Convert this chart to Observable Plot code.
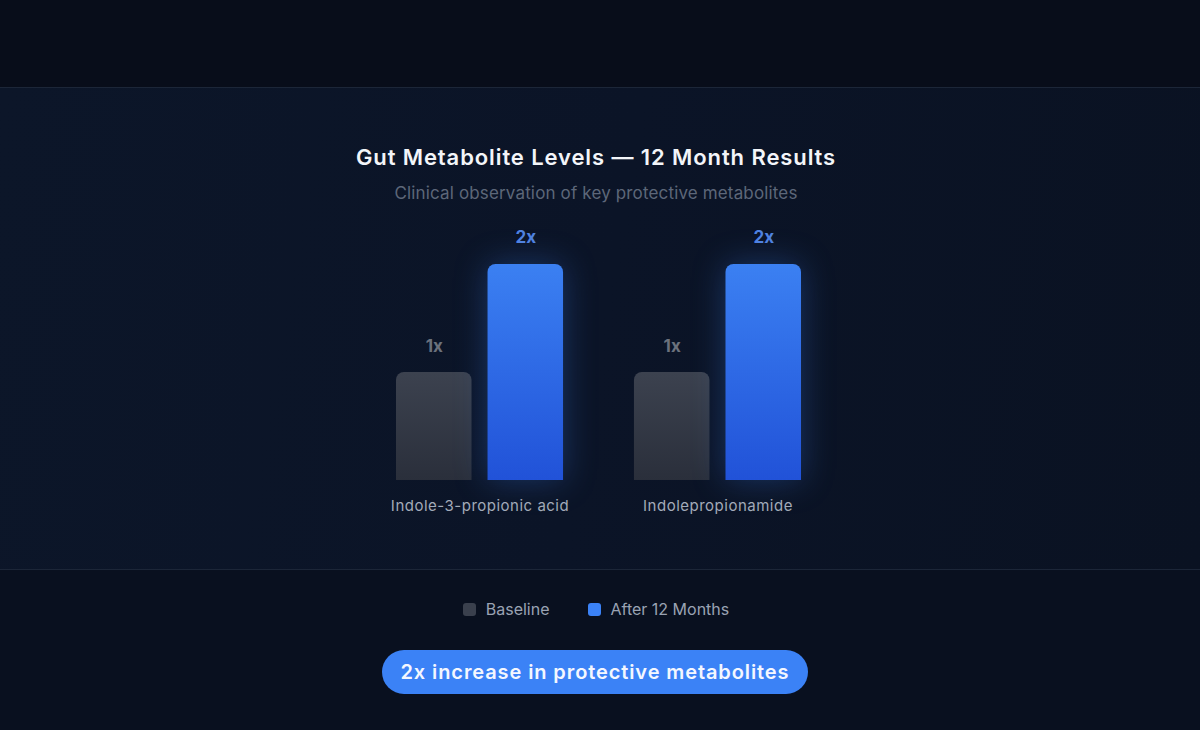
<!DOCTYPE html>
<html>
<head>
<meta charset="utf-8">
<script src="https://cdn.jsdelivr.net/npm/d3@7"></script>
<script src="https://cdn.jsdelivr.net/npm/@observablehq/plot@0.6"></script>
<style>
  html, body { margin: 0; padding: 0; }
  body { width: 1200px; height: 730px; overflow: hidden; background: #080d1a; position: relative; font-family: Inter, "Noto Sans", sans-serif; }
  .panel { position: absolute; left: 0; top: 87px; width: 1200px; height: 481px; border-top: 1px solid #1c2638; border-bottom: 1px solid #1c2638;
    background: linear-gradient(100deg, #0c1629 0%, #0b1427 50%, #0a1222 100%); }
  .bottom { position: absolute; left: 0; top: 570px; width: 1200px; height: 160px; background: #09101f; }
  .title { position: absolute; left: 0; width: 1192px; top: 143px; line-height: 28px; text-align: center; color: #f3f5f9; font-size: 22px; font-weight: 600; letter-spacing: 0.9px; }
  .subtitle { position: absolute; left: 0; width: 1192px; top: 182px; line-height: 22px; text-align: center; color: #5d6779; font-size: 17px; letter-spacing: 0.15px; }
  #chart { position: absolute; left: 0; top: 215px; }
  #chart g[aria-label="fx-axis tick label"] text { letter-spacing: 0.5px; }
  .legend { position: absolute; left: 0; width: 1192px; top: 598px; line-height: 22px; text-align: center; color: #9aa3b3; font-size: 16px; display: flex; justify-content: center; }
  .legend span.item { display: inline-flex; align-items: center; }
  .legend span.item + span.item { margin-left: 38px; }
  .legend i { display: inline-block; width: 13px; height: 13px; border-radius: 3px; margin-right: 10px; }
  .pill { position: absolute; left: 382px; top: 650px; width: 426px; height: 44px; border-radius: 22px; background: #3b82f6; color: #f4f7ff; font-size: 20px; font-weight: 600; line-height: 44px; text-align: center; letter-spacing: 0.9px; }
</style>
</head>
<body>
<div class="panel"></div>
<div class="bottom"></div>
<div class="title">Gut Metabolite Levels — 12 Month Results</div>
<div class="subtitle">Clinical observation of key protective metabolites</div>
<div id="chart"></div>
<div class="legend" id="legend"></div>
<div class="pill">2x increase in protective metabolites</div>
<script>
const categories = ["Indole-3-propionic acid", "Indolepropionamide"];
const series = ["Baseline", "After 12 Months"];
const baselineValues = [1, 1];
const afterValues = [2, 2];
const seriesColors = ["#3a404d", "#3b82f6"];

const data = categories.flatMap((c, i) => [
  {category: c, series: series[0], value: baselineValues[i]},
  {category: c, series: series[1], value: afterValues[i]}
]);
const base = data.filter(d => d.series === series[0]);
const after = data.filter(d => d.series === series[1]);

const chart = Plot.plot({
  width: 1200,
  height: 305,
  marginTop: 49,
  marginBottom: 40,
  marginLeft: 396,
  marginRight: 399,
  style: {background: "transparent", color: "#a3abb9", fontFamily: "Inter, 'Noto Sans', sans-serif", fontSize: "15px", overflow: "visible"},
  fx: {domain: categories, paddingInner: 0.298, paddingOuter: 0, round: false, label: null},
  x: {domain: series, paddingInner: 0.175, paddingOuter: 0, round: false, axis: null},
  y: {domain: [0, 2], axis: null},
  color: {domain: series, range: ["url(#gBase)", "url(#gBlue)"]},
  marks: [
    Plot.axisFx({anchor: "bottom", tickSize: 0, tickPadding: 20, fontSize: 15, label: null, fill: "#a3abb9"}),
    Plot.barY(base, {fx: "category", x: "series", y: "value", fill: "series", ry1: 8}),
    Plot.barY(after, {fx: "category", x: "series", y: "value", fill: "series", ry1: 8,
      imageFilter: "drop-shadow(0 0 16px rgba(59,130,246,0.3))"}),
    Plot.text(base, {fx: "category", x: "series", y: "value", text: d => d.value + "x", dy: -26, fill: "#6b717c", fontSize: 17, fontWeight: 700}),
    Plot.text(after, {fx: "category", x: "series", y: "value", text: d => d.value + "x", dy: -27, fill: "#4f82e0", fontSize: 17, fontWeight: 700})
  ]
});

const defs = document.createElementNS("http://www.w3.org/2000/svg", "defs");
defs.innerHTML = `
  <linearGradient id="gBlue" x1="0" y1="0" x2="0" y2="1">
    <stop offset="0" stop-color="#3b80f2"/>
    <stop offset="1" stop-color="#2152d8"/>
  </linearGradient>
  <linearGradient id="gBase" x1="0" y1="0" x2="0" y2="1">
    <stop offset="0" stop-color="#3c424f"/>
    <stop offset="1" stop-color="#2a2f3b"/>
  </linearGradient>`;
chart.insertBefore(defs, chart.firstChild);
document.getElementById("chart").appendChild(chart);

const legend = document.getElementById("legend");
series.forEach((s, i) => {
  const item = document.createElement("span");
  item.className = "item";
  item.innerHTML = `<i style="background:${seriesColors[i]}"></i>${s}`;
  legend.appendChild(item);
});
</script>
</body>
</html>
